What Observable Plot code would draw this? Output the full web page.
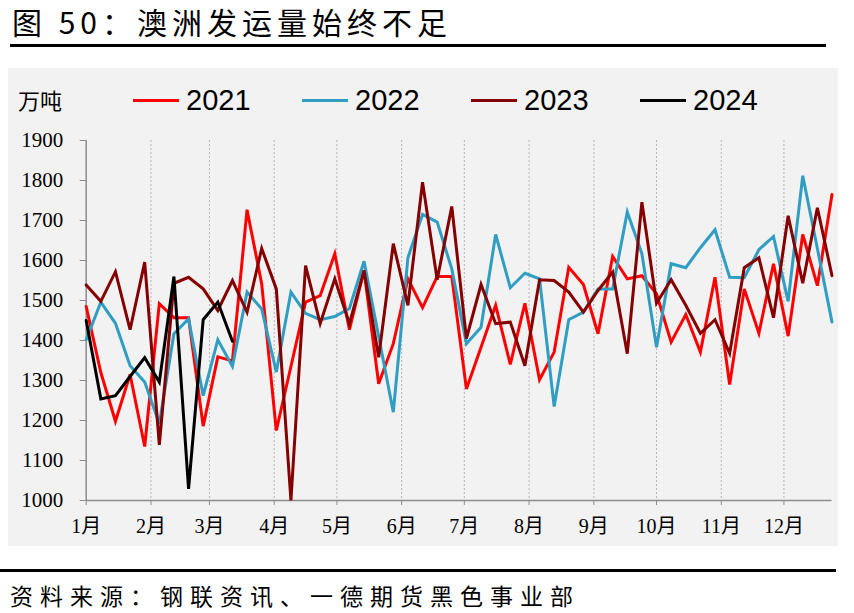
<!DOCTYPE html>
<html><head><meta charset="utf-8">
<script src="https://cdn.jsdelivr.net/npm/d3@7"></script>
<script src="https://cdn.jsdelivr.net/npm/@observablehq/plot@0.6"></script>
<style>
body{margin:0;background:#fff;width:854px;height:613px;overflow:hidden;position:relative;font-family:"Noto Sans CJK SC",sans-serif;color:#000;}
#title{position:absolute;left:12px;top:0px;font-size:30px;letter-spacing:5px;line-height:42px;white-space:nowrap;}
#rule1{position:absolute;left:10px;top:44px;width:816px;height:3px;background:#000;}
#panel{position:absolute;left:8px;top:68px;width:830px;height:478px;background:#f2f2f2;}
#unit{position:absolute;left:10px;top:16px;font-size:22px;line-height:30px;}
#legend{position:absolute;left:125px;top:12px;display:flex;}
.item{display:flex;align-items:center;width:169px;}
.sw{width:46px;height:3px;margin-right:7px;}
.lt{font-family:"Liberation Sans",sans-serif;font-size:29px;line-height:40px;}
#chart{position:absolute;left:0;top:60px;}
#rule2{position:absolute;left:0;top:569px;width:836px;height:3px;background:#000;}
#caption{position:absolute;left:10px;top:579px;font-size:23px;letter-spacing:7px;line-height:32px;white-space:nowrap;}
</style></head>
<body>
<div id="title">图 50：澳洲发运量始终不足</div>
<div id="rule1"></div>
<div id="panel">
  <div id="unit">万吨</div>
  <div id="legend"></div>
  <div id="chart"></div>
</div>
<div id="rule2"></div>
<div id="caption">资料来源：钢联资讯、一德期货黑色事业部</div>
<script>
const years = ["2021", "2022", "2023", "2024"];
const colors = ["#FF0000", "#2F9EC2", "#850000", "#000000"];
const s2021 = [1485,1320,1198,1315,1135,1492,1457,1457,1186,1359,1349,1727,1542,1175,1335,1496,1512,1617,1427,1575,1292,1392,1554,1482,1560,1560,1279,1383,1488,1340,1493,1302,1371,1583,1540,1417,1610,1554,1562,1517,1396,1465,1371,1558,1290,1529,1418,1592,1411,1665,1537,1765];
const s2022 = [1402,1496,1443,1337,1296,1192,1417,1454,1262,1402,1335,1521,1479,1321,1521,1468,1452,1460,1480,1598,1410,1221,1607,1715,1696,1579,1392,1433,1665,1532,1568,1554,1235,1452,1471,1529,1529,1721,1617,1383,1592,1582,1632,1677,1558,1557,1627,1660,1498,1812,1630,1446];
const s2023 = [1539,1498,1572,1427,1596,1139,1543,1558,1529,1475,1550,1471,1630,1529,1000,1587,1442,1554,1442,1575,1358,1642,1488,1796,1552,1735,1405,1540,1442,1446,1337,1552,1550,1521,1471,1525,1571,1367,1746,1493,1552,1488,1418,1452,1368,1582,1607,1457,1712,1543,1732,1562];
const s2024 = [1450,1254,1262,1310,1357,1296,1560,1029,1452,1496,1398];
const yTicks = [1000,1100,1200,1300,1400,1500,1600,1700,1800,1900];
const monthLabels = ["1月","2月","3月","4月","5月","6月","7月","8月","9月","10月","11月","12月"];

const seriesList = [s2021, s2022, s2023, s2024];
const start = new Date(Date.UTC(2021, 0, 1));
const end = new Date(Date.UTC(2021, 11, 24));
const rows = [];
seriesList.forEach((s, k) => s.forEach((v, i) => rows.push({year: years[k], date: d3.utcDay.offset(start, 7 * i), value: v})));
const monthTicks = d3.utcMonth.range(start, d3.utcMonth.offset(start, 12));

// legend
const leg = document.getElementById("legend");
years.forEach((y, k) => {
  const it = document.createElement("div"); it.className = "item";
  const sw = document.createElement("div"); sw.className = "sw"; sw.style.background = colors[k];
  const t = document.createElement("span"); t.className = "lt"; t.textContent = y;
  it.appendChild(sw); it.appendChild(t); leg.appendChild(it);
});

const axisGray = "#8c8c8c";
const chart = Plot.plot({
  width: 830, height: 418,
  marginTop: 12, marginBottom: 46, marginLeft: 77.7, marginRight: 6.5,
  style: {background: "transparent", overflow: "visible"},
  x: {type: "utc", domain: [start, end]},
  y: {domain: [1000, 1900]},
  color: {domain: years, range: colors},
  marks: [
    Plot.gridX(monthTicks.slice(1), {stroke: "#b4b4b4", strokeOpacity: 1, strokeDasharray: "2,2", strokeWidth: 1}),
    Plot.ruleX([start], {stroke: axisGray, strokeWidth: 1.5}),
    Plot.ruleY([1000], {stroke: axisGray, strokeWidth: 1.5}),
    Plot.axisY({ticks: yTicks, tickSize: 6, tickPadding: 17, tickFormat: d => String(d), stroke: axisGray, fill: "#000", fontSize: 21, fontFamily: "Liberation Serif, serif", label: null}),
    Plot.axisX({ticks: monthTicks, tickSize: 5, tickPadding: 13, tickFormat: d => monthLabels[d.getUTCMonth()], stroke: axisGray, fill: "#000", fontSize: 20, fontFamily: "Liberation Serif, Noto Sans CJK SC, serif", label: null}),
    Plot.line(rows, {x: "date", y: "value", z: "year", stroke: "year", strokeWidth: 3, strokeLinejoin: "miter", strokeMiterlimit: 4})
  ]
});
document.getElementById("chart").appendChild(chart);
</script>
</body></html>
